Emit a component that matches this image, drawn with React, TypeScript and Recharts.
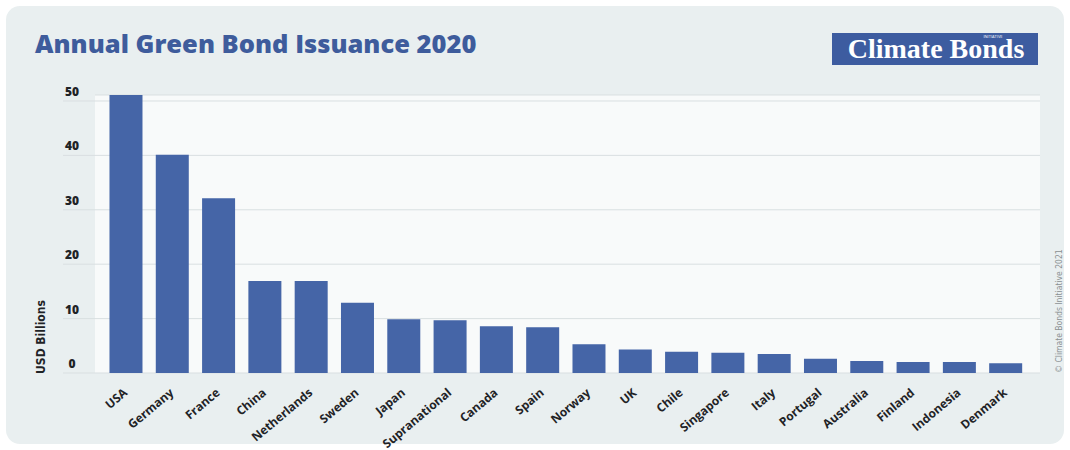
import { BarChart, Bar, XAxis, YAxis, CartesianGrid } from "recharts";

const countries = [
  "USA", "Germany", "France", "China", "Netherlands", "Sweden", "Japan",
  "Supranational", "Canada", "Spain", "Norway", "UK", "Chile", "Singapore",
  "Italy", "Portugal", "Australia", "Finland", "Indonesia", "Denmark",
];
const issuance = [
  51.1, 40.1, 32.1, 16.9, 16.9, 12.9, 9.9, 9.7, 8.6, 8.4,
  5.3, 4.3, 3.9, 3.7, 3.5, 2.6, 2.2, 2.0, 2.0, 1.8,
];
const yTicks = [0, 10, 20, 30, 40, 50];

const data = countries.map((country, i) => ({ country, value: issuance[i] }));

const sans = "'Open Sans', 'Noto Sans', sans-serif";
const narrow = "'Liberation Sans Narrow', 'DejaVu Sans Condensed', 'Liberation Sans', sans-serif";

const CountryTick = (props: any) => {
  const { x, payload } = props;
  return (
    <g transform={`translate(${x + 2},394)`}>
      <text
        x={0}
        y={0}
        textAnchor="end"
        transform="rotate(-40)"
        fontFamily={sans}
        fontWeight={700}
        fontSize={12}
        fill="#1f2326"
      >
        {payload.value}
      </text>
    </g>
  );
};

const ValueTick = (props: any) => {
  const { y, payload } = props;
  return (
    <text
      x={72}
      y={y - 5}
      textAnchor="middle"
      fontFamily={sans}
      fontWeight={800}
      fontSize={12}
      fill="#1f2326"
    >
      {payload.value}
    </text>
  );
};

export default function App() {
  return (
    <div style={{ position: "fixed", left: 0, top: 0, width: 1070, height: 450, background: "#fff" }}>
      <div
        style={{
          position: "absolute",
          left: 6,
          top: 6,
          width: 1058,
          height: 438,
          borderRadius: 14,
          background: "#e9eff0",
        }}
      />
      <div style={{ position: "absolute", left: 0, top: 0 }}>
        <BarChart
          width={1070}
          height={450}
          data={data}
          margin={{ top: 95, right: 30, left: 0, bottom: 7 }}
          barCategoryGap="14%"
        >
          <CartesianGrid vertical={false} stroke="#d9dfe1" fill="#f8fafa" />
          <XAxis
            dataKey="country"
            interval={0}
            height={70}
            axisLine={false}
            tickLine={false}
            padding={{ left: 8, right: 11 }}
            tick={<CountryTick />}
          />
          <YAxis
            width={95}
            domain={[0, 50]}
            ticks={yTicks}
            axisLine={false}
            tickSize={32}
            tickLine={{ stroke: "#d9dfe1" }}
            tick={<ValueTick />}
          />
          <Bar dataKey="value" fill="#4565a7" isAnimationActive={false} />
        </BarChart>
      </div>
      <svg
        width={1070}
        height={450}
        style={{ position: "absolute", left: 0, top: 0, pointerEvents: "none" }}
      >
        <text x={35} y={53} fontFamily={sans} fontWeight={800} fontSize={25.5} fill="#3e5c9c">
          Annual Green Bond Issuance 2020
        </text>
        <rect x={832} y={33} width={206} height={32} fill="#3d5ca0" />
        <text
          x={936}
          y={58}
          textAnchor="middle"
          fontFamily="'Liberation Serif', 'DejaVu Serif', serif"
          fontWeight={700}
          fontSize={28}
          fill="#ffffff"
        >
          Climate Bonds
        </text>
        <text x={993} y={38} textAnchor="middle" fontFamily={sans} fontSize={4} fill="#ffffff">
          INITIATIVE
        </text>
        <text
          x={41}
          y={337}
          transform="rotate(-90, 41, 337)"
          textAnchor="middle"
          dominantBaseline="central"
          fontFamily={narrow}
          fontWeight={700}
          fontSize={12}
          fill="#1f2326"
        >
          USD Billions
        </text>
        <text
          x={1059}
          y={311}
          transform="rotate(-90, 1059, 311)"
          textAnchor="middle"
          dominantBaseline="central"
          fontFamily={narrow}
          fontSize={8.5}
          fill="#8a8f92"
        >
          © Climate Bonds Initiative 2021
        </text>
      </svg>
    </div>
  );
}
